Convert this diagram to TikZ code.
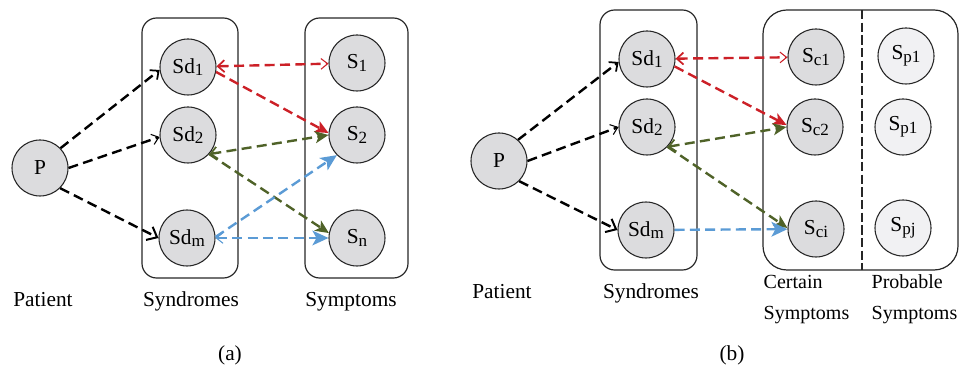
\documentclass[tikz,border=0pt]{standalone}
\usepackage{fontspec}
\setmainfont{Liberation Serif}
\usetikzlibrary{arrows.meta}

% lowered subscript sized for the node labels
\newcommand\lsub[1]{\raisebox{-2pt}{\fontsize{12.8}{12.8}\selectfont #1}}

\definecolor{linkred}{RGB}{204,32,39}
\definecolor{linkgreen}{RGB}{79,98,40}
\definecolor{linkblue}{RGB}{91,155,213}
\definecolor{nodegray}{RGB}{220,220,222}
\definecolor{nodelight}{RGB}{241,241,243}

\tikzset{
  myBarb/.tip={Straight Barb[length=5pt,width=9pt,line width=1.3pt]},
  thinBarb/.tip={Straight Barb[length=5pt,width=8pt,line width=0.8pt]},
  bigBarb/.tip={Straight Barb[length=6.5pt,width=11pt,line width=1.5pt]},
  myStealth/.tip={Stealth[length=10pt,width=9pt,inset=2.5pt]},
  bigStealth/.tip={Stealth[length=12pt,width=11pt,inset=3pt]},
}

\begin{document}
\begin{tikzpicture}[x=0.75pt,y=-0.75pt,
  every node/.style={font=\fontsize{16}{19}\selectfont},
  state/.style={circle,draw=black!85,line width=0.8pt,fill=nodegray,
                minimum size=42pt,inner sep=0pt},
  prob/.style={state,fill=nodelight},
  group/.style={draw=black!85,line width=0.9pt,rounded corners=11pt},
  link/.style={line width=1.8pt,dash pattern=on 7.5pt off 4pt},
  caption/.style={anchor=base},
  colcaption/.style={anchor=base west,font=\fontsize{15}{18}\selectfont},
]
\useasboundingbox (0,0) rectangle (961,366);

% ---------------- (a) ----------------
\draw[group] (142,18) rectangle (238,278);
\draw[group] (305,18) rectangle (408,278);

\node[state] (Pa)   at (40,168)  {P};
\node[state] (Sd1a) at (188,67)  {Sd\lsub{1}};
\node[state] (Sd2a) at (188,135) {Sd\lsub{2}};
\node[state] (Sdma) at (187,238) {Sd\lsub{m}};
\node[state] (S1a)  at (357,63)  {S\lsub{1}};
\node[state] (S2a)  at (357,135) {S\lsub{2}};
\node[state] (Sna)  at (357,238) {S\lsub{n}};

\draw[link,-{myBarb}]   (Pa.44)  -- (Sd1a.186);
\draw[link,-{thinBarb}] (Pa.0)   -- (Sd2a.184);
\draw[link,-{bigBarb}]  (Pa.-45) -- (Sdma.180);

\draw[link,linkred,{myBarb}-{thinBarb}] (Sd1a) -- (S1a);
\draw[link,linkred,-{myStealth}] (Sd1a.-10) -- (S2a.176);

\draw[link,linkgreen,{myBarb}-{myStealth}] (Sd2a.-42) -- (S2a.180);
\draw[link,linkgreen,-{myStealth}] (Sd2a.-42) -- (Sna.170);

\draw[link,linkblue,-{bigStealth}] (Sdma.2) -- (S2a.225);
\draw[link,linkblue,{thinBarb}-{bigStealth}] (Sdma) -- (Sna);

\node[caption] (labPa)  at (43,307)  {Patient};
\node[caption] (labSda) at (191,307) {Syndromes};
\node[caption] (labSa)  at (351,307) {Symptoms};
\node[caption] (capa)   at (230,361) {(a)};

% ---------------- (b) ----------------
\draw[group] (600,10) rectangle (697,270);
\draw[group,rounded corners=18pt] (763,10) rectangle (958,270);
\coordinate (divTop) at (862,10);
\coordinate (divBot) at (862,270);
\draw[line width=0.9pt,black!85,dash pattern=on 7pt off 2.5pt] (divTop) -- (divBot);

\node[state] (Pb)   at (499,161) {P};
\node[state] (Sd1b) at (647,59)  {Sd\lsub{1}};
\node[state] (Sd2b) at (647,127) {Sd\lsub{2}};
\node[state] (Sdmb) at (646,230) {Sd\lsub{m}};
\node[state] (Sc1)  at (816,57)  {S\lsub{c1}};
\node[state] (Sc2)  at (815,127) {S\lsub{c2}};
\node[state] (Sci)  at (816,229) {S\lsub{ci}};
\node[prob]  (Sp1)  at (906,56)  {S\lsub{p1}};
\node[prob]  (Sp2)  at (903,127) {S\lsub{p1}};
\node[prob]  (Spj)  at (903,228) {S\lsub{pj}};

\draw[link,-{myBarb}]   (Pb.48)  -- (Sd1b.186);
\draw[link,-{thinBarb}] (Pb.0)   -- (Sd2b.180);
\draw[link,-{bigBarb}]  (Pb.-45) -- (Sdmb.180);

\draw[link,linkred,{myBarb}-{thinBarb}] (Sd1b) -- (Sc1);
\draw[link,linkred,-{myStealth}] (Sd1b.-15) -- (Sc2.176);

\draw[link,linkgreen,{myBarb}-{myStealth}] (Sd2b.-44) -- (Sc2.180);
\draw[link,linkgreen,-{myStealth}] (Sd2b.-44) -- (Sci.178);

\draw[link,linkblue,-{bigStealth}] (Sdmb) -- (Sci);

\node[caption] (labPb)  at (502,299) {Patient};
\node[caption] (labSdb) at (651,299) {Syndromes};
\node[colcaption] (labC1) at (759,289) {Certain};
\node[colcaption] (labC2) at (759,320) {Symptoms};
\node[colcaption] (labP1) at (867,289) {Probable};
\node[colcaption] (labP2) at (867,320) {Symptoms};
\node[caption] (capb) at (732,361) {(b)};
\end{tikzpicture}
\end{document}
